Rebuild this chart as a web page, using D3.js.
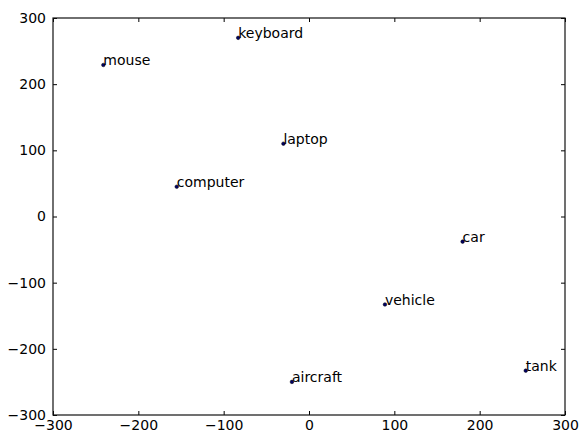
<!DOCTYPE html>
<html>
<head>
<meta charset="utf-8" />
<title>Word scatter</title>
<style>
  body { margin: 0; background: #fff; }
  text { font-family: "DejaVu Sans", sans-serif; }
</style>
</head>
<body>
<div id="chart"></div>
<script src="https://d3js.org/d3.v7.min.js"></script>
<script>
  const words = ['keyboard', 'mouse', 'laptop', 'computer', 'car', 'vehicle', 'tank', 'aircraft'];
  const xs = [-83, -241, -30, -155, 180, 89, 254, -20];
  const ys = [270, 229, 110, 45, -38, -133, -233, -250];
  const ticks = [-300, -200, -100, 0, 100, 200, 300];

  const width = 579, height = 430;
  const margin = { top: 18, right: 14, bottom: 15, left: 53 };
  const fmt = d => d < 0 ? '\u2212' + Math.abs(d) : String(d);

  const svg = d3.select('#chart').append('svg')
    .attr('width', width)
    .attr('height', height);

  const x = d3.scaleLinear().domain([-300, 300]).range([margin.left, width - margin.right]);
  const y = d3.scaleLinear().domain([-300, 300]).range([height - margin.bottom, margin.top]);

  // axes with inward ticks, like matplotlib
  const axisStyle = (g, hideLabels) => {
    g.select('.domain').remove();
    g.selectAll('line').attr('stroke', '#000');
    g.selectAll('text').attr('fill', '#000').style('font-size', '14px');
    if (hideLabels) g.selectAll('text').remove();
  };

  svg.append('g')
    .attr('transform', `translate(0,${height - margin.bottom})`)
    .call(d3.axisBottom(x).tickValues(ticks).tickFormat(fmt).tickSizeInner(-4).tickPadding(8))
    .call(g => axisStyle(g, false))
    .call(g => g.selectAll('text').attr('dy', '0.5em'));

  svg.append('g')
    .attr('transform', `translate(0,${margin.top})`)
    .call(d3.axisTop(x).tickValues(ticks).tickSizeInner(-4))
    .call(g => axisStyle(g, true));

  svg.append('g')
    .attr('transform', `translate(${margin.left},0)`)
    .call(d3.axisLeft(y).tickValues(ticks).tickFormat(fmt).tickSizeInner(-4).tickPadding(7))
    .call(g => axisStyle(g, false));

  svg.append('g')
    .attr('transform', `translate(${width - margin.right},0)`)
    .call(d3.axisRight(y).tickValues(ticks).tickSizeInner(-4))
    .call(g => axisStyle(g, true));

  svg.append('rect')
    .attr('x', margin.left)
    .attr('y', margin.top)
    .attr('width', width - margin.left - margin.right)
    .attr('height', height - margin.top - margin.bottom)
    .attr('fill', 'none')
    .attr('stroke', '#111')
    .attr('stroke-width', 1.2);

  const pts = svg.append('g').selectAll('g')
    .data(words)
    .join('g')
    .attr('transform', (d, i) => `translate(${x(xs[i])},${y(ys[i])})`);

  pts.append('circle')
    .attr('r', 1.8)
    .attr('fill', '#000066')
    .attr('stroke', '#000')
    .attr('stroke-width', 0.5);

  pts.append('text')
    .attr('x', 0)
    .attr('y', 0)
    .style('font-size', '14px')
    .attr('fill', '#000')
    .text(d => d);
</script>
</body>
</html>
